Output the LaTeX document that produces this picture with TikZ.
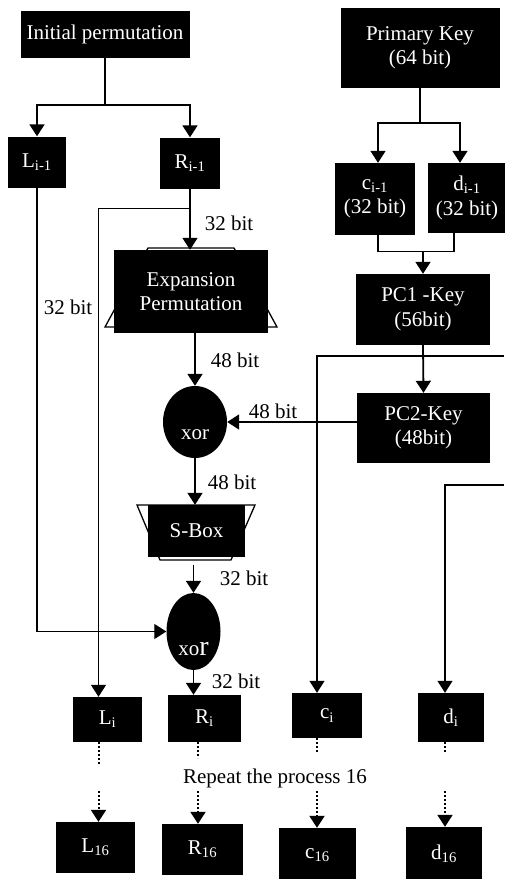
\documentclass[tikz,border=0pt]{standalone}
\usepackage{fontspec}
\setmainfont{Liberation Serif}
\usetikzlibrary{shapes.geometric, arrows.meta, positioning}

\begin{document}
\begin{tikzpicture}[
  x=1pt, y=-1pt,
  font=\fontsize{21}{24.5}\selectfont,
  box/.style={fill=black, text=white, align=center, inner sep=0pt},
  gate/.style={ellipse, fill=black, inner sep=0pt},
  gatetext/.style={text=white, inner sep=0pt},
  lbl/.style={inner sep=0pt},
  arrow/.style={-{Triangle[length=12pt, width=15pt]}, line width=1.8pt},
  thinarrow/.style={-{Triangle[length=12pt, width=15pt]}, line width=1.3pt},
  link/.style={line width=1.3pt},
  dotline/.style={line width=2pt, dash pattern=on 2pt off 2pt},
  dotarrow/.style={dotline, -{Triangle[length=12pt, width=15pt]}}
]
\useasboundingbox (0,0) rectangle (504,879);

\node[box, minimum width=169pt, minimum height=47pt] (init) at (105,34) {Initial permutation};
\node[box, minimum width=58pt, minimum height=51pt] (li1) at (37,162) {L\textsubscript{i-1}};
\node[box, minimum width=60pt, minimum height=51pt] (ri1) at (190,163) {R\textsubscript{i-1}};
\node[box, minimum width=159pt, minimum height=80pt] (pk) at (420,48) {Primary Key\\(64 bit)};
\node[box, minimum width=80pt, minimum height=72pt] (ci1) at (375,199) {c\textsubscript{i-1}\\(32 bit)};
\node[box, minimum width=78pt, minimum height=70pt] (di1) at (467,198) {d\textsubscript{i-1}\\(32 bit)};
\node[box, minimum width=134pt, minimum height=71pt] (pc1) at (423,309.5) {PC1 -Key\\(56bit)};
\node[box, minimum width=133pt, minimum height=70pt] (pc2) at (423.5,428) {PC2-Key\\(48bit)};
\node[box, minimum width=154pt, minimum height=83pt] (exp) at (191,291.5) {Expansion\\Permutation};
\node[gate, minimum width=64pt, minimum height=72pt, label={[gatetext, yshift=-13pt]center:xor}] (xor1) at (195,422) {};
\node[box, minimum width=97pt, minimum height=52pt] (sbox) at (196.5,531) {S-Box};
\node[gate, minimum width=54pt, minimum height=77pt, label={[gatetext, yshift=-17pt]center:xo{\fontsize{28}{28}\selectfont r}}] (xor2) at (193.5,631.5) {};

\node[box, minimum width=69pt, minimum height=45pt] (li) at (107.5,719.5) {L\textsubscript{i}};
\node[box, minimum width=73pt, minimum height=47pt] (ri) at (204.5,718.5) {R\textsubscript{i}};
\node[box, minimum width=70pt, minimum height=45pt] (ci) at (327,715.5) {c\textsubscript{i}};
\node[box, minimum width=66pt, minimum height=49pt] (di) at (451,717.5) {d\textsubscript{i}};
\node[lbl] (rep) at (275,778) {Repeat the process 16};
\node[box, minimum width=79pt, minimum height=51pt] (l16) at (95.5,847.5) {L\textsubscript{16}};
\node[box, minimum width=81pt, minimum height=51pt] (r16) at (202.5,849.5) {R\textsubscript{16}};
\node[box, minimum width=77pt, minimum height=54pt] (c16) at (317.5,855) {c\textsubscript{16}};
\node[box, minimum width=76pt, minimum height=54pt] (d16) at (444,854) {d\textsubscript{16}};

\node[lbl] at (229,223) {32 bit};
\node[lbl] at (68,307) {32 bit};
\node[lbl] at (235,360) {48 bit};
\node[lbl] at (273,411) {48 bit};
\node[lbl] at (232,482) {48 bit};
\node[lbl] at (244,578) {32 bit};
\node[lbl] at (236,681) {32 bit};

\coordinate (colL) at (98.5,0);
\coordinate (colR) at (198,0);
\coordinate (colC) at (317,0);
\coordinate (colD) at (445,0);
\coordinate (rowRep) at (0,791);
\coordinate (keyC) at (504,356);
\coordinate (keyD) at (504,485);

\draw[link] ([shift={(-43,-43.5)}]exp.center) -- ([shift={(43,-43.5)}]exp.center)
  -- ([shift={(86,35.5)}]exp.center) -- ([shift={(-86,35.5)}]exp.center) -- cycle;
\draw[link] ([shift={(-59.5,-26)}]sbox.center) -- ([shift={(58.5,-26)}]sbox.center)
  -- ([shift={(34.5,29)}]sbox.center) -- ([shift={(-36.5,29)}]sbox.center) -- cycle;

\draw[arrow] (init.south) -- ++(0,47) -| (li1.north);
\draw[arrow] (init.south) -- ++(0,47) -| (ri1.north);
\draw[arrow] (pk.south) -- ++(0,35) -| ([xshift=3pt]ci1.north);
\draw[arrow] (pk.south) -- ++(0,35) -| ([xshift=-7pt]di1.north);
\draw[link] ([xshift=3pt]ci1.south) -- ++(0,16) -| ([xshift=-13pt]di1.south);
\draw[arrow] (pc1.north |- 0,251) -- (pc1.north);
\draw[arrow] (pc1.south) -- (pc2.north);
\draw[arrow] (xor1.east -| pc2.west) -- (xor1.east);
\draw[thinarrow] (keyC) -| (colC |- ci.north);
\draw[thinarrow] (keyD) -| (colD |- di.north);

\draw[arrow] (ri1.south) -- (ri1.south |- exp.north);
\draw[thinarrow] ([yshift=-20pt]ri1.south) -| (colL |- li.north);
\draw[arrow] (exp.south -| xor1.north) -- (xor1.north);
\draw[arrow] (xor1.south) -- (xor1.south |- sbox.north);
\draw[arrow] ([yshift=28pt]xor2.north) -- (xor2.north);
\draw[thinarrow] (li1.south) |- (xor2.west);
\draw[arrow] (xor2.south) -- (xor2.south |- ri.north);

\draw[dotline] (colL |- li.south) -- ++(0,23);
\draw[dotline] (colR |- ri.south) -- ++(0,16);
\draw[dotline] (colC |- ci.south) -- ++(0,15);
\draw[dotline] (colD |- di.south) -- ++(0,11);
\draw[dotarrow] (colL |- rowRep) -- (colL |- l16.north);
\draw[dotarrow] (colR |- rowRep) -- (colR |- r16.north);
\draw[dotarrow] (colC |- rowRep) -- (colC |- c16.north);
\draw[dotarrow] (colD |- rowRep) -- (colD |- d16.north);
\end{tikzpicture}
\end{document}
